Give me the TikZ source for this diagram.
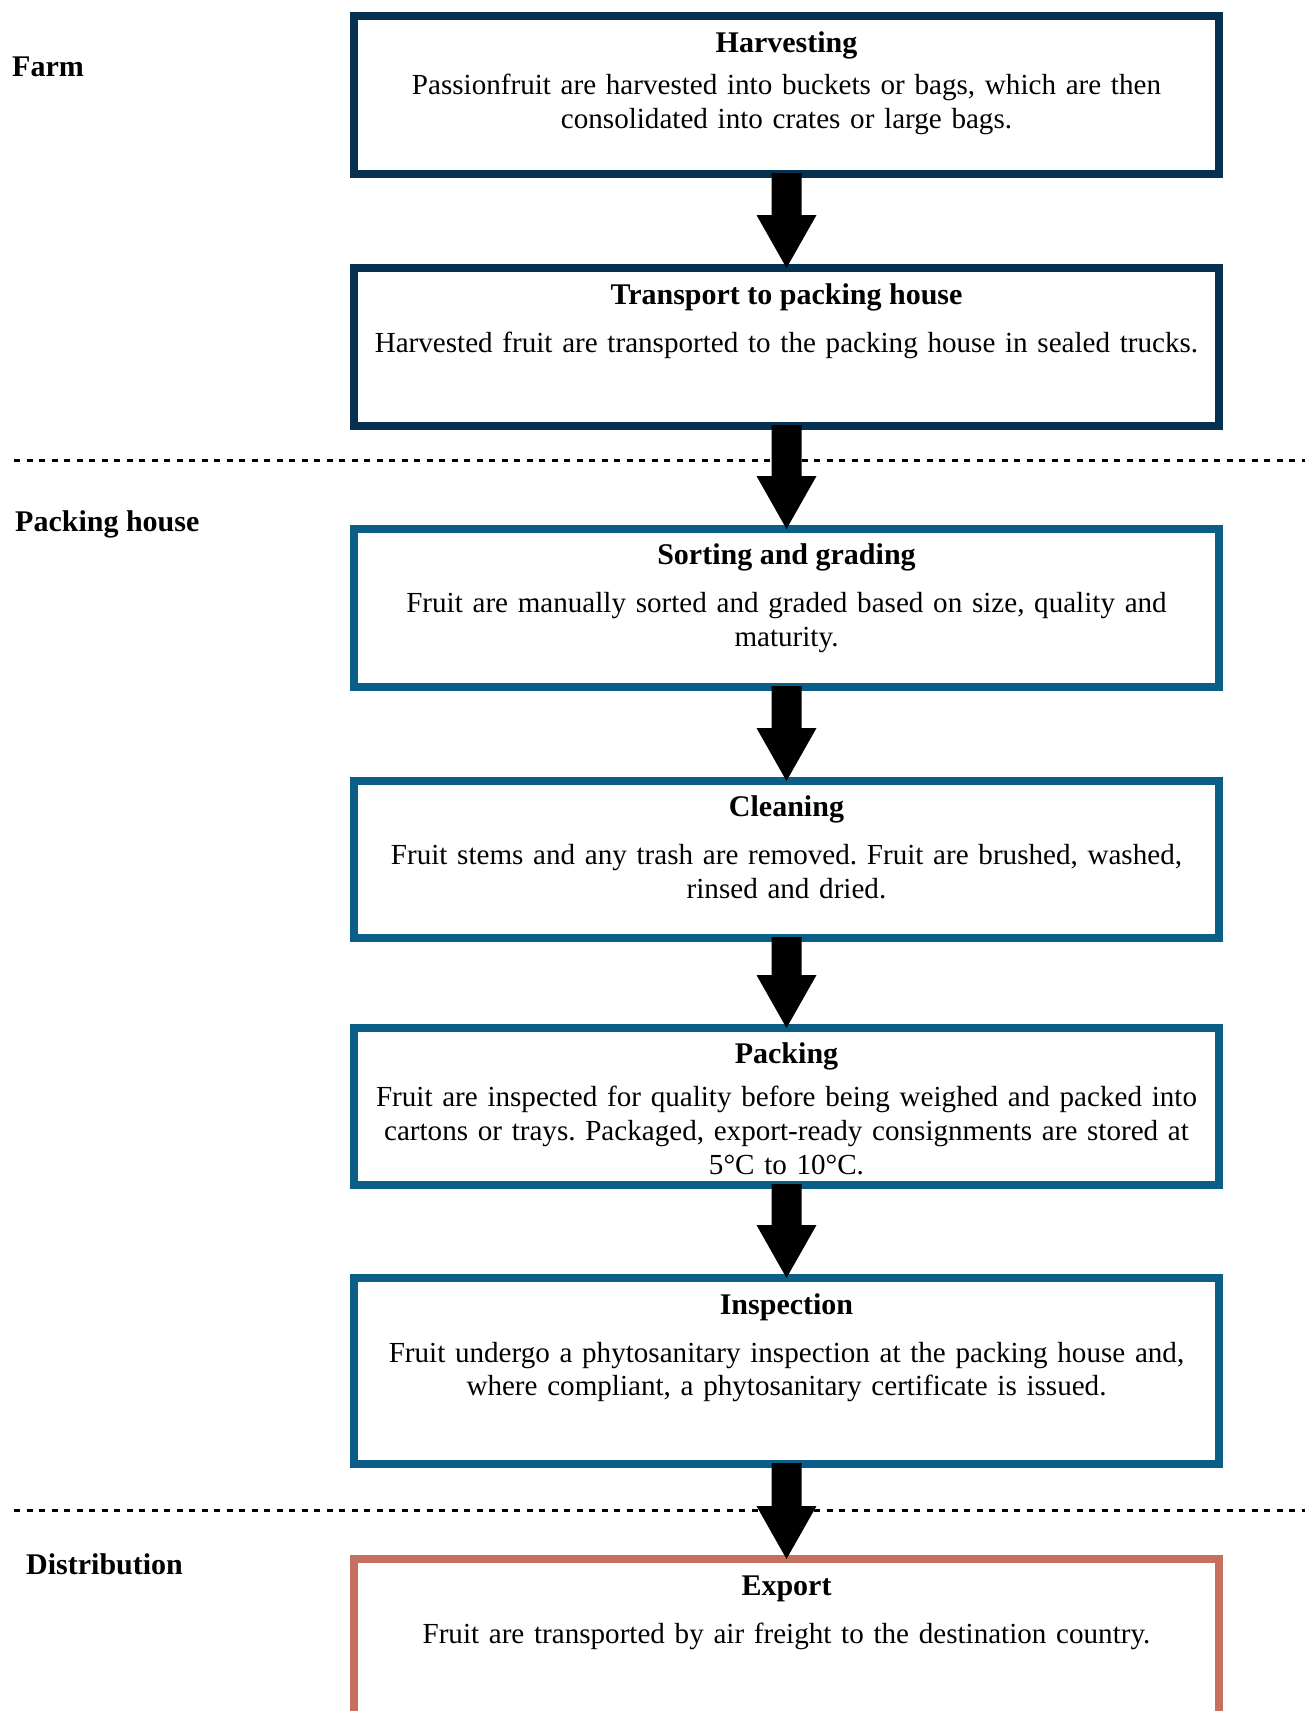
\documentclass[tikz,border=0pt]{standalone}
\usepackage{fontspec}
\setmainfont{Liberation Serif}
\usetikzlibrary{calc}
\definecolor{boxnavy}{HTML}{05304F}
\definecolor{boxblue}{HTML}{0B5E87}
\definecolor{boxsalmon}{HTML}{C5705F}
\tikzset{
  stage/.style={draw, line width=8pt, minimum width=865pt, inner sep=0pt, outer sep=0pt, anchor=north},
  ttl/.style={font=\bfseries\fontsize{30}{34}\selectfont, anchor=base, inner sep=0pt},
  body/.style={font=\frenchspacing\fontsize{29.1}{33.8}\selectfont, anchor=base, inner sep=0pt, text width=860pt, align=center},
  zone/.style={font=\bfseries\fontsize{30}{34}\selectfont, anchor=base west, inner sep=0pt},
  sepline/.style={line width=3pt, dash pattern=on 6pt off 6.5pt},
}
\newcommand\flowarrow[2]{%
  \fill let \p1=(#1.south), \p2=(#2.north) in
  (\x1-15pt,\y1+1pt) -- (\x1+15pt,\y1+1pt) -- (\x1+15pt,\y2+53pt) -- (\x1+30pt,\y2+53pt)
  -- (\x1,\y2) -- (\x1-30pt,\y2+53pt) -- (\x1-15pt,\y2+53pt) -- cycle;}
\begin{document}
\begin{tikzpicture}[x=1pt,y=1pt]
\useasboundingbox (0,0) rectangle (1305,-1711);
\clip (0,0) rectangle (1305,-1711);
\fill[white] (0,0) rectangle (1305,-1711);

% separators
\coordinate (d1a) at (14,-460); \coordinate (d1b) at (1305,-460);
\coordinate (d2a) at (14,-1510); \coordinate (d2b) at (1305,-1510);
\draw[sepline] (d1a) -- (d1b);
\draw[sepline] (d2a) -- (d2b);

% zone labels
\node[zone] (farm) at (12,-76.6) {Farm};
\node[zone] (ph) at (15,-531.6) {Packing house};
\node[zone] (dist) at (26,-1574.7) {Distribution};

% boxes
\node[stage, draw=boxnavy, minimum height=158pt] (harv) at (786.5,-16) {};
\node[stage, draw=boxnavy, minimum height=158pt] (trans) at (786.5,-268) {};
\node[stage, draw=boxblue, minimum height=158pt] (sort) at (786.5,-529) {};
\node[stage, draw=boxblue, minimum height=157pt] (clean) at (786.5,-781) {};
\node[stage, draw=boxblue, minimum height=157pt] (pack) at (786.5,-1028) {};
\node[stage, draw=boxblue, minimum height=186pt] (insp) at (786.5,-1278) {};
\node[stage, draw=boxsalmon, minimum height=260pt] (exp) at (786.5,-1559) {};

% texts
\node[ttl] (harvT) at (786.5,-52.6) {Harvesting};
\node[body] (harvB) at (786.5,-94.2) {Passionfruit are harvested into buckets or bags, which are then\\consolidated into crates or large bags.};

\node[ttl] (transT) at (786.5,-304.7) {Transport to packing house};
\node[body] (transB) at (786.5,-352.8) {Harvested fruit are transported to the packing house in sealed trucks.};

\node[ttl] (sortT) at (786.5,-564.4) {Sorting and grading};
\node[body] (sortB) at (786.5,-612.5) {Fruit are manually sorted and graded based on size, quality and\\maturity.};

\node[ttl] (cleanT) at (786.5,-816.4) {Cleaning};
\node[body] (cleanB) at (786.5,-864.5) {Fruit stems and any trash are removed. Fruit are brushed, washed,\\rinsed and dried.};

\node[ttl] (packT) at (786.5,-1063) {Packing};
\node[body] (packB) at (786.5,-1106.7) {Fruit are inspected for quality before being weighed and packed into\\cartons or trays. Packaged, export-ready consignments are stored at\\5°C to 10°C.};

\node[ttl] (inspT) at (786.5,-1314) {Inspection};
\node[body] (inspB) at (786.5,-1362) {Fruit undergo a phytosanitary inspection at the packing house and,\\where compliant, a phytosanitary certificate is issued.};

\node[ttl] (expT) at (786.5,-1595.5) {Export};
\node[body] (expB) at (786.5,-1643.6) {Fruit are transported by air freight to the destination country.};

% arrows
\flowarrow{harv}{trans}
\flowarrow{trans}{sort}
\flowarrow{sort}{clean}
\flowarrow{clean}{pack}
\flowarrow{pack}{insp}
\flowarrow{insp}{exp}
\end{tikzpicture}
\end{document}
